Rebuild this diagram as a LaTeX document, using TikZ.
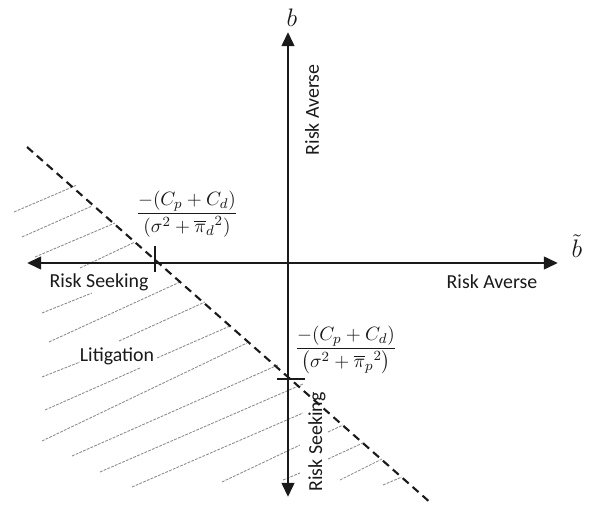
\documentclass[tikz,border=0pt]{standalone}
\usepackage{amsmath}
\usepackage{fontspec}
\setmainfont{Carlito}
\usetikzlibrary{arrows.meta}
\definecolor{ink}{HTML}{1A1A1A}
\definecolor{hatchgray}{HTML}{8C8C8C}
\tikzset{
  axisline/.style={ink,line width=1.7pt,{Triangle[length=8pt,width=7pt]}-{Triangle[length=8pt,width=7pt]}},
  hatchline/.style={hatchgray,line width=0.5pt,dash pattern=on 1.6pt off 0.7pt},
  boundary/.style={ink,line width=1.2pt,dash pattern=on 4.5pt off 3pt},
  lbl/.style={font=\fontsize{11.3}{13}\selectfont,text=ink,inner sep=1pt},
}

\begin{document}
\begin{tikzpicture}[x=0.2cm,y=0.2cm]
  \useasboundingbox (-28.8,-24.4) rectangle (30.4,26.3);
  % hatching of the litigation region
  \foreach \xa/\ya/\xb/\yb in {-27.4/5.1/-21.1/7.8, -26.6/2.6/-19.6/5.7, -25.3/0.6/-17.3/4.0,
      -20.8/-0.5/-15.3/2.1, -24.6/-5.0/-19.6/-3.0, -23.9/-7.9/-10.8/-1.9, -16.9/-7.8/-8.3/-3.9,
      -24.6/-11.4/-20.8/-9.9, -13.1/-9.5/-5.8/-6.3, -24.3/-14.7/-14.8/-10.5, -24.6/-17.8/-4.1/-8.0,
      -21.6/-19.3/-1.0/-10.2, -18.8/-20.9/1.5/-12.1, -15.6/-22.4/1.5/-15.0, -6.6/-21.9/1.2/-18.2,
      -0.5/-21.7/1.2/-21.0, 4.0/-16.9/5.5/-16.2, 4.0/-19.6/7.7/-17.9, 5.2/-21.7/9.4/-19.6,
      9.5/-22.2/11.4/-21.4}
    \draw[hatchline] (\xa,\ya) -- (\xb,\yb);
  % dashed boundary
  \coordinate (bstart) at (-26.1,11.6);
  \coordinate (bend) at (14.4,-24.1);
  \draw[boundary] (bstart) -- (bend);
  % axes
  \coordinate (west) at (-26.1,0);
  \coordinate (east) at (27.0,0);
  \coordinate (north) at (0,23.1);
  \coordinate (south) at (0,-23.4);
  \draw[axisline] (west) -- (east);
  \draw[axisline] (south) -- (north);
  % intercept ticks
  \draw[ink,line width=1.1pt] (-13.3,1.7) -- (-13.3,-0.9);
  \draw[ink,line width=1.1pt] (-1.1,-11.6) -- (1.7,-11.6);
  % labels
  \node[font=\Large,text=ink] (bv) at (0.4,24.5) {$b$};
  \node[font=\Large,text=ink] (bt) at (28.9,1.7) {$\tilde{b}$};
  \node[lbl,rotate=90] (ra1) at (2.4,15.3) {Risk Averse};
  \node[lbl] (ra2) at (20.4,-1.9) {Risk Averse};
  \node[lbl] (rs1) at (-18.9,-1.9) {Risk Seeking};
  \node[lbl,rotate=90] (rs2) at (2.9,-17.9) {Risk Seeking};
  \node[lbl] (lit) at (-17.1,-9.3) {Litigation};
  \node[text=ink,font=\fontsize{11}{13}\selectfont] (fd) at (-10.1,4.9)
      {$\dfrac{-(C_p+C_d)}{(\sigma^2+{\overline{\pi}_d}^2)}$};
  \node[text=ink,font=\fontsize{11}{13}\selectfont] (fp) at (5.8,-8.7)
      {$\dfrac{-(C_p+C_d)}{\bigl(\sigma^2+{\overline{\pi}_p}^2\bigr)}$};
\end{tikzpicture}
\end{document}
